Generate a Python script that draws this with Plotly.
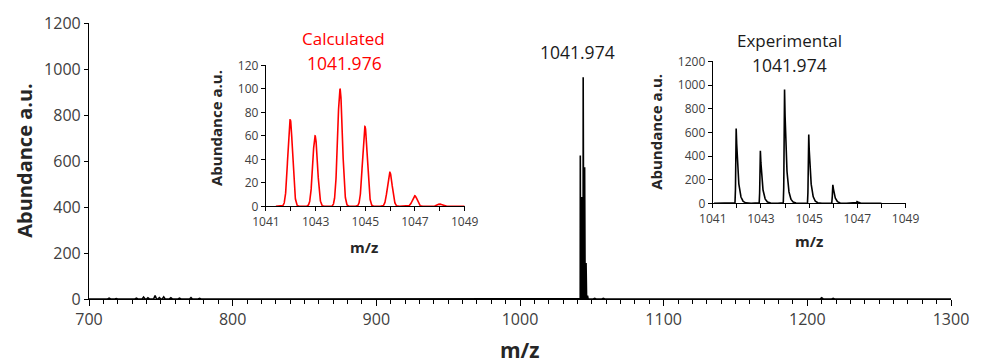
import numpy as np
import plotly.graph_objects as go

# Calculated isotope pattern (relative abundance, %)
calc_mz = [1041.976, 1042.979, 1043.982, 1044.985, 1045.988, 1046.991, 1047.994]
calc_abund = [74, 60, 100, 68, 29, 9, 2]

# Experimental isotope cluster (a.u.)
exp_mz = [1041.974, 1042.977, 1043.980, 1044.983, 1045.986, 1046.989]
exp_abund = [640, 446, 964, 587, 159, 15]

# Small baseline signals across the full scan
noise_mz = [704, 709, 714, 719, 724, 728, 733, 738, 741, 746, 749, 752, 757, 763,
            767, 771, 777, 783, 790, 797, 804, 812, 819, 826, 833, 841, 849, 858,
            866, 874, 881, 889, 896, 903, 911, 918, 926, 934, 942, 951, 959, 968,
            975, 983, 990, 997, 1005, 1012, 1020, 1027, 1034, 1052, 1058, 1065,
            1072, 1080, 1089, 1096, 1104, 1112, 1121, 1129, 1138, 1145, 1153, 1161,
            1169, 1177, 1184, 1192, 1199, 1205, 1210, 1218, 1226, 1233, 1241, 1249,
            1257, 1264, 1272, 1280, 1288, 1295]
noise_abund = [3, 2, 4, 2, 3, 2, 4, 8, 5, 15, 6, 9, 5, 4,
               3, 6, 3, 3, 2, 3, 2, 3, 2, 3, 2, 3, 2, 3,
               2, 3, 2, 3, 2, 3, 2, 3, 2, 3, 2, 3, 2, 3,
               2, 3, 2, 3, 2, 3, 2, 3, 2, 3, 3, 2,
               3, 2, 3, 2, 3, 2, 3, 2, 3, 2, 3, 2,
               3, 2, 3, 2, 3, 3, 5, 3, 3, 2, 3, 2,
               3, 2, 3, 2, 3, 2]

main_xticks = [700, 800, 900, 1000, 1100, 1200, 1300]
main_yticks = [0, 200, 400, 600, 800, 1000, 1200]
calc_yticks = [0, 20, 40, 60, 80, 100, 120]
exp_yticks = [0, 200, 400, 600, 800, 1000, 1200]
inset_xticks = [1041, 1043, 1045, 1047, 1049]

FONT = "'Open Sans', sans-serif"
TICK_COLOR = "#404040"
TITLE_COLOR = "#262626"

# plot-area geometry in pixels (used to place free text)
W, H = 981, 364
ML, MR, MT, MB = 89, 20, 19, 65
PW, PH = W - ML - MR, H - MT - MB


def px(x):
    return (x - ML) / PW


def py(y):
    return (H - MB - y) / PH


def gaussian_profile(x, centers, heights, sigma=0.095):
    y = np.zeros_like(x)
    for c, h in zip(centers, heights):
        y += h * np.exp(-0.5 * ((x - c) / sigma) ** 2)
    return y


def tailed_profile(x, centers, heights, rise=0.025, tail=0.08):
    y = np.zeros_like(x)
    for c, h in zip(centers, heights):
        d = x - c
        y += np.where(d < 0, h * np.exp(-(d / rise) ** 2), h * np.exp(-d / tail))
    return y


# Calculated inset profile
xc = np.linspace(1041.4, 1049.0, 1600)
yc = gaussian_profile(xc, calc_mz, calc_abund)

# Experimental inset profile
xe = np.linspace(1041.05, 1048.0, 1600)
ye = tailed_profile(xe, exp_mz, exp_abund)

# Full-range spectrum: baseline with small signals plus the cluster
xs, ys = [700.0], [0.0]
for m, h in zip(noise_mz, noise_abund):
    xs += [m - 1.0, m, m + 1.0]
    ys += [0.0, h, 0.0]
xm = np.linspace(1041.5, 1048.0, 900)
ym = tailed_profile(xm, exp_mz, exp_abund)
pairs = sorted(zip(xs, ys))
left = [(a, b) for a, b in pairs if a < 1041.5]
right = [(a, b) for a, b in pairs if a > 1048.0]
x_full = [p[0] for p in left] + list(xm) + [p[0] for p in right] + [1300.0]
y_full = [p[1] for p in left] + list(ym) + [p[1] for p in right] + [0.0]

fig = go.Figure()
fig.add_trace(go.Scatter(x=x_full, y=y_full, mode="lines",
                         line=dict(color="black", width=1.6),
                         xaxis="x", yaxis="y", showlegend=False))
fig.add_trace(go.Scatter(x=xc, y=yc, mode="lines",
                         line=dict(color="#ff0000", width=1.6),
                         xaxis="x2", yaxis="y2", showlegend=False))
fig.add_trace(go.Scatter(x=xe, y=ye, mode="lines",
                         line=dict(color="black", width=1.6),
                         xaxis="x3", yaxis="y3", showlegend=False))

axis_common = dict(showgrid=False, zeroline=False, showline=True,
                   linecolor="black", linewidth=1.2, ticks="outside",
                   tickcolor="black", tickwidth=1.2)

fig.update_layout(
    width=W, height=H,
    margin=dict(l=ML, r=MR, t=MT, b=MB),
    paper_bgcolor="white", plot_bgcolor="white",
    font=dict(family=FONT, color=TICK_COLOR),
    xaxis=dict(**axis_common, range=[700, 1300], tickvals=main_xticks,
               minor=dict(dtick=10, ticks="outside", ticklen=4, tickcolor="black"),
               ticklen=6, tickfont=dict(size=16, color=TICK_COLOR)),
    yaxis=dict(**axis_common, range=[0, 1200], tickvals=main_yticks, ticklen=4,
               tickfont=dict(size=16, color=TICK_COLOR)),
    xaxis2=dict(**axis_common, domain=[px(268), px(469)], anchor="y2",
                range=[1041, 1049], tickvals=inset_xticks, ticklen=4,
                minor=dict(dtick=1, ticks="outside", ticklen=4, tickcolor="black"),
                tickfont=dict(size=12, color=TICK_COLOR)),
    yaxis2=dict(**axis_common, domain=[py(205), py(62)], anchor="x2",
                range=[0, 120], tickvals=calc_yticks, ticklen=4,
                tickfont=dict(size=12, color=TICK_COLOR)),
    xaxis3=dict(**axis_common, domain=[px(720), px(915)], anchor="y3",
                range=[1041, 1049], tickvals=inset_xticks, ticklen=4,
                minor=dict(dtick=1, ticks="outside", ticklen=4, tickcolor="black"),
                tickfont=dict(size=12, color=TICK_COLOR)),
    yaxis3=dict(**axis_common, domain=[py(202), py(58)], anchor="x3",
                range=[0, 1200], tickvals=exp_yticks, ticklen=4,
                tickfont=dict(size=12, color=TICK_COLOR)),
)


def text(x, y, s, size, color=TITLE_COLOR, angle=0):
    fig.add_annotation(x=px(x), y=py(y), xref="paper", yref="paper", text=s,
                       showarrow=False, xanchor="center", yanchor="middle",
                       textangle=angle, font=dict(size=size, color=color,
                                                  family=FONT))


# axis titles
text(525, 351, "<b>m/z</b>", 21)
text(23, 158, "<b>Abundance a.u.</b>", 20, angle=-90)
text(367, 246, "<b>m/z</b>", 15)
text(218, 126, "<b>Abundance a.u.</b>", 15, angle=-90)
text(817, 240, "<b>m/z</b>", 15)
text(663, 129, "<b>Abundance a.u.</b>", 15, angle=-90)

# peak and inset labels
text(583, 48, f"{exp_mz[0]:.3f}", 17.5, color="#1a1a1a")
text(346, 35, "Calculated", 17, color="#ff0000")
text(347, 60, f"{calc_mz[0]:.3f}", 17.5, color="#ff0000")
text(798, 37, "Experimental", 17, color="#1a1a1a")
text(798, 62, f"{exp_mz[0]:.3f}", 17.5, color="#1a1a1a")

fig.write_html("out.html")
